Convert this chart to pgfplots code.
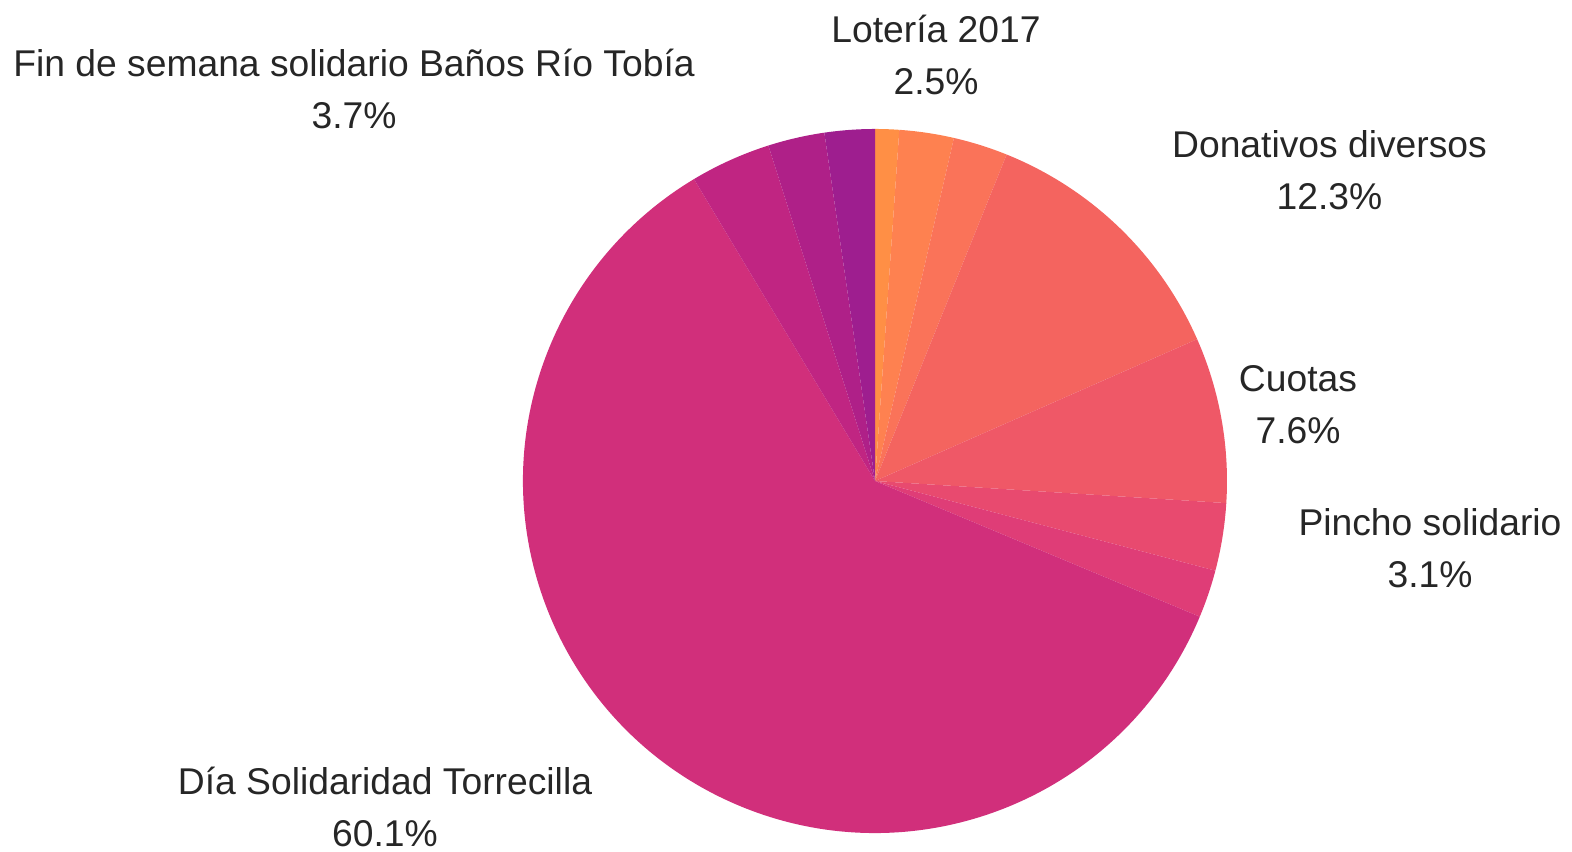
\documentclass[border=0pt]{standalone}
\usepackage{fontspec}
\setmainfont{Liberation Sans}
\usepackage{pgfplots}
\pgfplotsset{compat=1.18}
\definecolor{c1}{HTML}{FF8F45}
\definecolor{c2}{HTML}{FE8150}
\definecolor{c3}{HTML}{FA7359}
\definecolor{c4}{HTML}{F4645F}
\definecolor{c5}{HTML}{EF5867}
\definecolor{c6}{HTML}{E84A6F}
\definecolor{c7}{HTML}{DF3D77}
\definecolor{c8}{HTML}{D12F7B}
\definecolor{c9}{HTML}{C02582}
\definecolor{c10}{HTML}{AF2088}
\definecolor{c11}{HTML}{9E1E8F}
\definecolor{txt}{HTML}{262626}
\begin{document}
\begin{tikzpicture}
\useasboundingbox (0,0) rectangle (157.2mm,85.2mm);
\begin{axis}[at={(0,0)},anchor=origin,x=0.1mm,y=0.1mm,xmin=0,xmax=1572,ymin=0,ymax=852,
  hide axis,clip=false,scale only axis]
\pgfplotsextra{
  \gdef\cum{0}
  \foreach \v/\c in {1.1/c1,2.5/c2,2.5/c3,12.3/c4,7.6/c5,3.1/c6,2.2/c7,60.1/c8,3.7/c9,2.6/c10,2.3/c11}{
    \pgfmathsetmacro\a{90-3.6*\cum}
    \pgfmathsetmacro\b{90-3.6*(\cum+\v)}
    \fill[\c] (axis cs:875,371) -- ++(\a:35.2mm) arc[start angle=\a, end angle=\b, radius=35.2mm] -- cycle;
    \pgfmathsetmacro\n{\cum+\v}
    \xdef\cum{\n}
  }
}
\tikzset{lab/.style={anchor=base,inner sep=0pt,text=txt,font=\fontsize{10.6}{12}\selectfont}}
\node[lab] at (axis cs:936,809) {Lotería 2017};
\node[lab] at (axis cs:936,757) {2.5\%};
\node[lab] at (axis cs:354,775) {Fin de semana solidario Baños Río Tobía};
\node[lab] at (axis cs:354,723) {3.7\%};
\node[lab] at (axis cs:1329.5,694) {Donativos diversos};
\node[lab] at (axis cs:1329.5,642) {12.3\%};
\node[lab] at (axis cs:1298,460) {Cuotas};
\node[lab] at (axis cs:1298,408) {7.6\%};
\node[lab] at (axis cs:1430,316) {Pincho solidario};
\node[lab] at (axis cs:1430,264) {3.1\%};
\node[lab] at (axis cs:385,57) {Día Solidaridad Torrecilla};
\node[lab] at (axis cs:385,5) {60.1\%};
\end{axis}
\end{tikzpicture}
\end{document}
